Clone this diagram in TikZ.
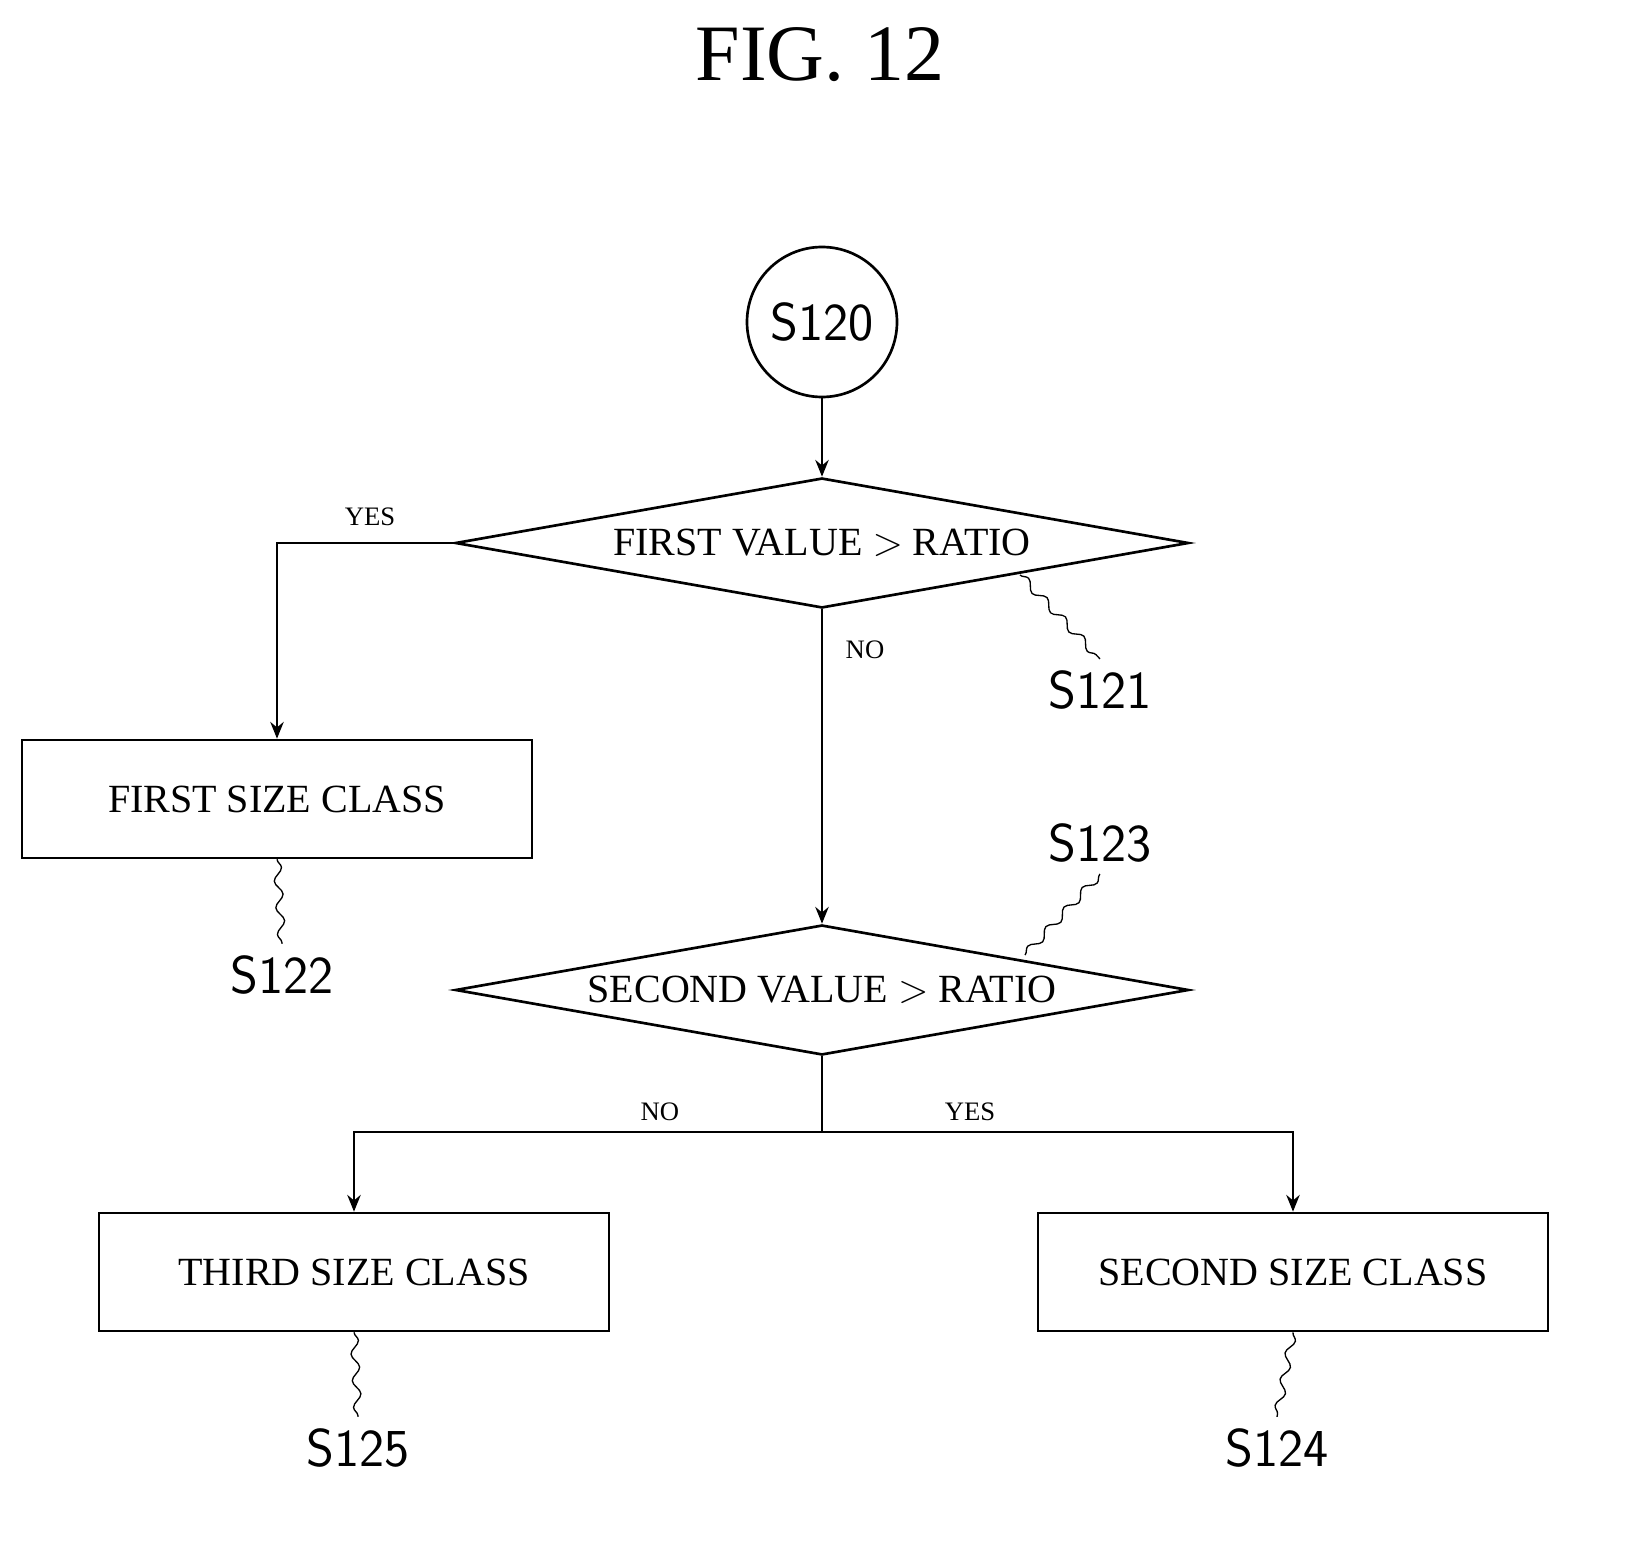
\documentclass[tikz,border=0pt]{standalone}
\usepackage{fontspec}
\setmainfont{Liberation Serif}
\usetikzlibrary{shapes.geometric,decorations.pathmorphing,arrows.meta}
\tikzset{
  box/.style={draw,thick,minimum width=153pt,minimum height=35.4pt,font=\fontsize{12}{14}\selectfont},
  dia/.style={draw,thick,diamond,inner sep=0pt,minimum width=220pt,minimum height=39pt},
  lbl/.style={font=\fontsize{8}{10}\selectfont},
  steplbl/.style={font=\sffamily\fontsize{16}{18}\selectfont},
  squig/.style={thin,decorate,decoration={snake,amplitude=1.2pt,segment length=8pt}},
  flow/.style={thick,-{Stealth[length=5pt,width=4pt]}}
}
\begin{document}
\begin{tikzpicture}[x=0.3pt,y=-0.3pt]
        \useasboundingbox (0,0) rectangle (1640,1556);
        % title
        \node[font=\fontsize{24}{28}\selectfont] (fig) at (820,55) {FIG. 12};

        % start
        \node[draw,thick,circle,minimum size=45pt,inner sep=0pt,steplbl] (s120) at (822,322) {S120};

        % decisions
        \node[dia] (d1) at (822,543) {};
        \node[font=\fontsize{12}{14}\selectfont] (t1) at (d1) {FIRST VALUE $>$ RATIO};
        \node[dia] (d2) at (822,990) {};
        \node[font=\fontsize{12}{14}\selectfont] (t2) at (d2) {SECOND VALUE $>$ RATIO};

        % classes
        \node[box] (c1) at (277,799) {FIRST SIZE CLASS};
        \node[box] (c3) at (354,1272) {THIRD SIZE CLASS};
        \node[box] (c2) at (1293,1272) {SECOND SIZE CLASS};

        % connectors
        \draw[flow] (s120) -- (d1.north);
        \draw[flow] (d1.west) -| (c1.north);
        \draw[flow] (d1.south) -- (d2.north);
        \coordinate (br) at (822,1132);
        \draw[thick] (d2.south) -- (br);
        \draw[flow] (br) -| (c3.north);
        \draw[flow] (br) -| (c2.north);
        \node[lbl] (yes1) at (370,517) {YES};
        \node[lbl] (no1) at (865,650) {NO};
        \node[lbl] (no2) at (660,1112) {NO};
        \node[lbl] (yes2) at (970,1112) {YES};

        % step labels
        \node[steplbl] (s121) at (1100,690) {S121};
        \node[steplbl] (s123) at (1100,843) {S123};
        \node[steplbl] (s122) at (282,975) {S122};
        \node[steplbl] (s125) at (358,1448) {S125};
        \node[steplbl] (s124) at (1277,1448) {S124};
        \draw[squig] (1020,575) -- (s121.north);
        \draw[squig] (1025,955) -- (s123.south);
        \draw[squig] (c1.south) -- (s122.north);
        \draw[squig] (c3.south) -- (s125.north);
        \draw[squig] (c2.south) -- (s124.north);
    \end{tikzpicture}
\end{document}
